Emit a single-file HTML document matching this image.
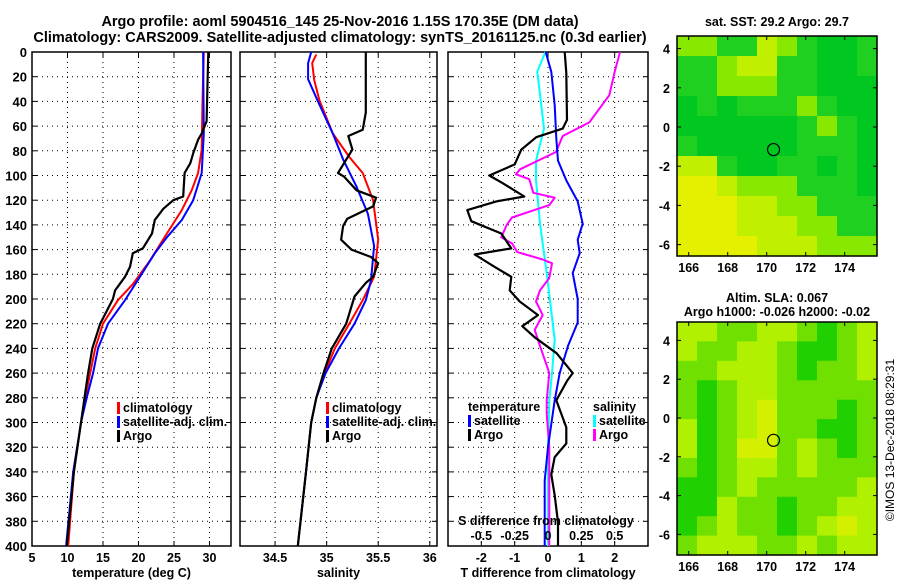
<!DOCTYPE html>
<html><head><meta charset="utf-8"><style>
body{margin:0;background:#fff}
svg{display:block}
text{font-family:"Liberation Sans",sans-serif;font-weight:bold;fill:#000}
</style></head><body>
<svg id="s" width="900" height="580" xmlns="http://www.w3.org/2000/svg">
<text x="340" y="26" font-size="14.5" text-anchor="middle">Argo profile: aoml 5904516_145 25-Nov-2016 1.15S 170.35E (DM data)</text>
<text x="340" y="42" font-size="14.5" text-anchor="middle">Climatology: CARS2009. Satellite-adjusted climatology: synTS_20161125.nc (0.3d earlier)</text>
<text x="777" y="26" font-size="12.5" text-anchor="middle">sat. SST: 29.2 Argo: 29.7</text>
<text x="777" y="302" font-size="12.5" text-anchor="middle">Altim. SLA: 0.067</text>
<text x="777" y="316" font-size="12.5" text-anchor="middle">Argo h1000: -0.026 h2000: -0.02</text>
<text transform="translate(894,440) rotate(-90)" font-size="12" font-weight="normal" text-anchor="middle" style="font-weight:normal">©IMOS 13-Dec-2018 08:29:31</text>
<g id="g"></g>
</svg>
<script>
// ---------- data ----------
const depthTicks=[0,20,40,60,80,100,120,140,160,180,200,220,240,260,280,300,320,340,360,380,400];
const tempTicks=[5,10,15,20,25,30];
const salTicks=[34.5,35,35.5,36];
const dTTicks=[-2,-1,0,1,2];
const dSTicks=[-0.5,-0.25,0,0.25,0.5];
const dSTickLabels=["-0.5","-0.25","0","0.25","0.5"];
const argoTdepth=[0,56,66,71,82,90,98,117,120,127,136,147,159,163,174,182,193,200,220,240,260,280,300,340,400];
const argoT=[29.83,29.6,28.9,28.4,27.7,27.3,26.5,26.3,24.9,23.5,22.3,21.9,20.6,19.2,18.8,18.1,16.7,16.4,14.6,13.5,12.9,12.4,11.9,10.9,9.9];
const climTdepth=[0,44,79,98,112,128,147,169,188,201,220,240,260,280,300,340,400];
const climT=[29.2,29.0,28.9,28.4,27.5,26.1,24.0,21.6,19.2,17.1,15.0,13.9,13.2,12.5,11.9,10.9,10.1];
const satTdepth=[0,66,98,120,136,150,163,182,201,220,240,260,280,300,340,400];
const satT=[29.1,29.2,28.9,27.7,26.1,24.0,22.3,20.2,18.1,15.7,14.3,13.6,12.7,11.9,10.8,9.8];
const argoSdepth=[0,49,63,68,79,98,101,112,118,125,135,141,152,160,166,171,182,187,198,220,240,260,280,300,340,400];
const argoS=[35.38,35.38,35.35,35.21,35.25,35.11,35.17,35.29,35.48,35.45,35.2,35.16,35.14,35.24,35.43,35.5,35.45,35.38,35.27,35.19,35.05,34.97,34.9,34.85,34.8,34.72];
const climSdepth=[2,9,23,39,66,85,98,120,152,182,201,220,240,260,280,300,340,400];
const climS=[34.9,34.86,34.88,34.93,35.06,35.22,35.35,35.45,35.5,35.46,35.35,35.22,35.08,34.98,34.9,34.85,34.8,34.72];
const satSdepth=[0,9,22,39,66,87,109,131,157,185,201,220,240,260,280,300,340,400];
const satS=[34.85,34.82,34.82,34.91,35.06,35.16,35.29,35.4,35.46,35.43,35.38,35.27,35.12,34.99,34.9,34.85,34.8,34.72];
const argoDTdepth=[0,17,55,62,69,79,91,100,106,117,121,128,137,147,159,164,174,182,193,202,213,222,231,244,260,266,282,304,317,328,342,359,381,400];
const argoDT=[0.5,0.55,0.57,0.44,-0.35,-0.8,-1.0,-1.76,-1.37,-0.71,-1.55,-2.42,-2.3,-1.4,-1.1,-2.2,-1.6,-1.1,-1.15,-0.85,-0.3,-0.77,-0.4,0.26,0.74,0.58,0.25,0.55,0.55,0.2,0.1,0.2,0.3,0.3];
const satDTdepth=[0,16,43,70,88,104,121,139,152,163,179,200,219,238,260,282,320,347,400];
const satDT=[-0.07,0.1,0.2,0.25,0.3,0.55,0.89,1.04,0.89,0.95,0.74,0.89,0.89,0.6,0.35,0.2,0,-0.1,-0.1];
const satDSdepth=[0,16,43,62,88,104,139,179,233,260,282,320,400];
const satDS=[-0.02,-0.08,-0.05,-0.03,-0.09,-0.09,-0.06,-0.01,0.05,0.03,0.01,0,0];
const argoDSdepth=[0,16,35,57,68,81,95,99,103,114,118,124,134,140,150,155,162,168,171,183,193,202,213,225,238,260,282,293,320,400];
const argoDS=[0.54,0.5,0.46,0.31,0.11,0.06,-0.21,-0.24,-0.14,-0.11,0.05,0.01,-0.27,-0.31,-0.35,-0.27,-0.23,-0.04,0.03,0.01,-0.06,-0.09,-0.04,-0.1,-0.06,0.01,-0.01,-0.01,0.01,0.01];
const lonTicks=[166,168,170,172,174];
const latTicks=[4,2,0,-2,-4,-6];
const sstGrid=[
"2211321001","1123311001","1122211000","0101112100","0000001210","1000001110",
"3310011010","4432221110","4443322111","4443332211","4444333222"];
const slaGrid=[
"3322332123","3223321123","2233321223","2123322222","2123422212","3123422112",
"3124423212","2123323222","1123222223","1132212233","1232212343","2333223233"];
const argoLon=170.35, argoLat=-1.15;
// ---------- drawing ----------
const NS="http://www.w3.org/2000/svg";
const G=document.getElementById('g');
function mk(t,a,p){const e=document.createElementNS(NS,t);for(const k in a)e.setAttribute(k,a[k]);(p||G).appendChild(e);return e;}
const top_=52,bot=546;
const yD=d=>top_+(d-0)*(bot-top_)/400;
const panels=[
 {name:'temperature-panel',x0:32,x1:231,v0:5,v1:33.03,ticks:tempTicks,labels:tempTicks.map(String),title:'temperature (deg C)'},
 {name:'salinity-panel',x0:240,x1:437,v0:34.16,v1:36.07,ticks:salTicks,labels:salTicks.map(String),title:'salinity'},
 {name:'difference-panel',x0:448,x1:648,v0:-3.0,v1:3.0,ticks:dTTicks,labels:dTTicks.map(String),title:'T difference from climatology'}
];
panels.forEach(p=>{p.sx=v=>p.x0+(v-p.v0)*(p.x1-p.x0)/(p.v1-p.v0);});
panels.forEach((p,pi)=>{
 const g=mk('g',{});
 
 
 depthTicks.forEach(d=>{const y=yD(d);
  if(d>0&&d<400){const l=mk('line',{x1:p.x0,x2:p.x1,y1:y,y2:y,stroke:'#000','stroke-width':1,'stroke-dasharray':'1,4'},g);}
  mk('line',{x1:p.x0,x2:p.x0+5,y1:y,y2:y,stroke:'#000'},g);mk('line',{x1:p.x1-5,x2:p.x1,y1:y,y2:y,stroke:'#000'},g);
  if(pi==0){const t=mk('text',{x:27,y:y+5,'font-size':13,'text-anchor':'end'},g);t.textContent=d;}
 });
 p.ticks.forEach((v,i)=>{const x=p.sx(v);
  if(x>p.x0+2&&x<p.x1-2){const l=mk('line',{x1:x,x2:x,y1:top_,y2:bot,stroke:'#000','stroke-dasharray':'1,4'},g);}
  mk('line',{x1:x,x2:x,y1:bot-5,y2:bot,stroke:'#000'},g);mk('line',{x1:x,x2:x,y1:top_,y2:top_+5,stroke:'#000'},g);
  const t=mk('text',{x:x,y:562,'font-size':12.5,'text-anchor':'middle'},g);t.textContent=p.labels[i];
 });
 const r=mk('rect',{x:p.x0,y:top_,width:p.x1-p.x0,height:bot-top_,fill:'none',stroke:'#000','stroke-width':1.5},g);
 
 const t=mk('text',{x:(p.x0+p.x1)/2,y:577,'font-size':12.5,'text-anchor':'middle'},g);t.textContent=p.title;
});
function line(sx,vals,deps,col,name,w){
 const pts=vals.map((v,i)=>sx(v).toFixed(1)+','+yD(deps[i]).toFixed(1)).join(' ');
 const e=mk('polyline',{points:pts,fill:'none',stroke:col,'stroke-width':w||2,'stroke-linejoin':'round'});
 
 
}
const P1=panels[0].sx,P2=panels[1].sx,P3=panels[2].sx;
const dSx=v=>P3(v*4);
line(P1,climT,climTdepth,'#f00','climatology-temperature-line');
line(P1,satT,satTdepth,'#00f','satellite-temperature-line');
line(P1,argoT,argoTdepth,'#000','argo-temperature-line',2.2);
line(P2,climS,climSdepth,'#f00','climatology-salinity-line');
line(P2,satS,satSdepth,'#00f','satellite-salinity-line');
line(P2,argoS,argoSdepth,'#000','argo-salinity-line',2.2);
line(dSx,satDS,satDSdepth,'#0ff','satellite-salinity-diff-line');
line(dSx,argoDS,argoDSdepth,'#f0f','argo-salinity-diff-line');
line(P3,satDT,satDTdepth,'#00f','satellite-temperature-diff-line');
line(P3,argoDT,argoDTdepth,'#000','argo-temperature-diff-line',2.2);
// S ticks on difference panel
const st=mk('text',{x:546,y:525,'font-size':12.5,'text-anchor':'middle'});st.textContent='S difference from climatology';


dSTicks.forEach((v,i)=>{const t=mk('text',{x:dSx(v),y:540,'font-size':12.5,'text-anchor':'middle'});t.textContent=dSTickLabels[i];

});
// legends
function legend(x,y,items,name,anchorRight){
 const g=mk('g',{});
 
 
 items.forEach((it,i)=>{const yy=y+i*14;
  if(it[1]){const b=mk('rect',{x:x,y:yy-10,width:3,height:12,fill:it[1]},g);}
  const t=mk('text',{x:x+(it[1]?6:0),y:yy,'font-size':12.5},g);t.textContent=it[0];
 });
}
legend(117,412,[['climatology','#f00'],['satellite-adj. clim.','#00f'],['Argo','#000']],'temperature-legend');
legend(326,412,[['climatology','#f00'],['satellite-adj. clim.','#00f'],['Argo','#000']],'salinity-legend');
legend(468,411,[['temperature',null],['satellite','#00f'],['Argo','#000']],'t-diff-legend');
legend(593,411,[['salinity',null],['satellite','#0ff'],['Argo','#f0f']],'s-diff-legend');
// maps
function map(name,grid,pal,x0,y0,w,h,lat0y,latScale){
 const g=mk('g',{});
 
 
 const rows=grid.length,cols=grid[0].length,cw=w/cols,ch=h/rows;
 grid.forEach((row,r)=>{[...row].forEach((c,k)=>{
  const e=mk('rect',{x:(x0+k*cw).toFixed(1),y:(y0+r*ch).toFixed(1),width:(cw+0.6).toFixed(1),height:(ch+0.6).toFixed(1),fill:pal[+c]},g);
  
  
 });});
 const lx=v=>x0+(v-165.4)*19.5, ly=v=>lat0y-v*latScale;
 mk('rect',{x:x0,y:y0,width:w,height:h,fill:'none',stroke:'#000','stroke-width':1.5},g);
 lonTicks.forEach(v=>{mk('line',{x1:lx(v),x2:lx(v),y1:y0,y2:y0+4,stroke:'#000'},g);mk('line',{x1:lx(v),x2:lx(v),y1:y0+h-4,y2:y0+h,stroke:'#000'},g);
  const t=mk('text',{x:lx(v),y:y0+h+16,'font-size':12.5,'text-anchor':'middle'},g);t.textContent=v;});
 latTicks.forEach(v=>{mk('line',{x1:x0,x2:x0+4,y1:ly(v),y2:ly(v),stroke:'#000'},g);mk('line',{x1:x0+w-4,x2:x0+w,y1:ly(v),y2:ly(v),stroke:'#000'},g);
  const t=mk('text',{x:x0-7,y:ly(v)+5,'font-size':12.5,'text-anchor':'end'},g);t.textContent=v;});
 const c=mk('circle',{cx:lx(argoLon),cy:ly(argoLat),r:6,fill:'none',stroke:'#000','stroke-width':1.2},g);
 
 
}
map('sst-map',sstGrid,['#00c820','#20d020','#88e800','#c0f000','#e4f000'],677,36,200,220,127,19.6);
map('sla-map',slaGrid,['#00c820','#20d000','#70e000','#b0f000','#d4f000'],677,322,200,233,418,19.4);
</script>
</body></html>
